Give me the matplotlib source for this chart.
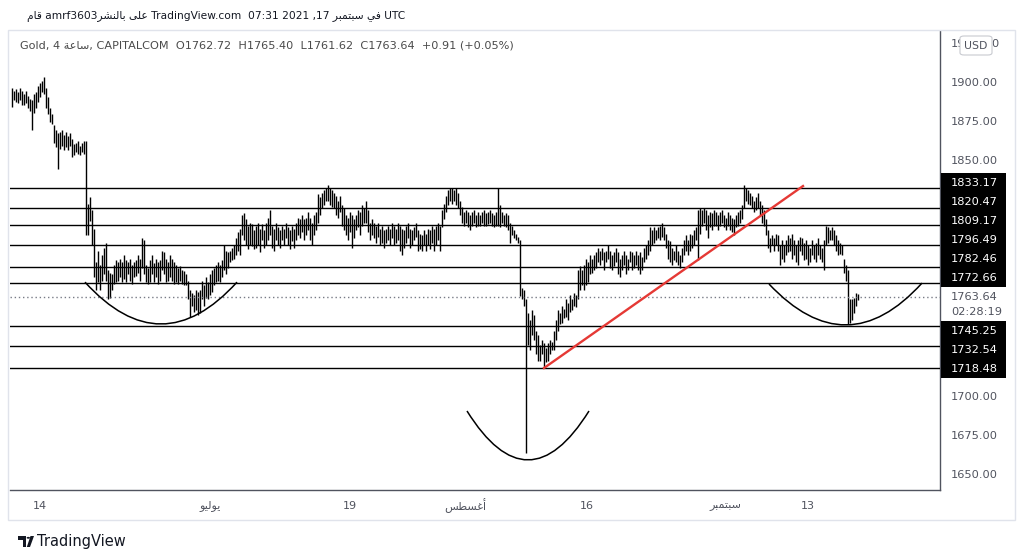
import numpy as np
import matplotlib.pyplot as plt
from matplotlib.path import Path
from matplotlib.patches import PathPatch, Rectangle, FancyBboxPatch, Polygon, Circle

plt.rcParams['font.family'] = ['DejaVu Sans']

# arabic words as presentation forms, already in visual (left to right) order
AR_QAM = "\ufee1\ufe8e\ufed7"
AR_BILNASHR = "\ufeae\ufeb8\ufee8\ufedf\ufe8e\ufe91"
AR_ALA = "\ufef0\ufee0\ufecb"
AR_FI = "\ufef2\ufed3"
AR_SEPT = "\ufeae\ufe92\ufee4\ufe98\ufe92\ufeb3"
AR_SAA = "\ufe94\ufecb\ufe8e\ufeb3"
AR_JULY = "\ufeee\ufef4\ufedf\ufeee\ufef3"
AR_AUG = "\ufeb2\ufec4\ufeb4\ufecf\ufe83"

# ---- 4h bars, high / low ----
bar_high = [
    # mid june
    1897, 1895, 1896, 1894, 1897, 1895, 1893, 1895, 1892, 1890,
    1889, 1893, 1894, 1898, 1900, 1901, 1904, 1897, 1891, 1884,
    1880, 1873, 1870, 1868, 1869, 1870, 1867, 1869, 1866, 1868,
    1864, 1861, 1862, 1863, 1860, 1862, 1863, 1863,
    # late june / july base
    1823, 1827, 1819, 1807, 1786, 1793, 1784, 1790, 1795, 1798,
    1781, 1779, 1778, 1784, 1787, 1786, 1788, 1786, 1790, 1787,
    1786, 1788, 1784, 1786, 1787, 1790, 1788, 1801, 1800, 1784,
    1782, 1787, 1790, 1785, 1788, 1786, 1787, 1793, 1792, 1788,
    1786, 1790, 1788, 1786, 1784, 1782, 1783, 1781, 1780, 1778,
    1774, 1768, 1766, 1765, 1768, 1767, 1768, 1774, 1771, 1776,
    1773, 1778, 1781, 1782, 1784, 1786, 1784, 1787, 1797, 1793,
    1792, 1793, 1795, 1797, 1801, 1805, 1807, 1816, 1817, 1813,
    1809, 1811,
    # july
    1810, 1806, 1809, 1811, 1807, 1810, 1806, 1811, 1814, 1819,
    1809, 1807, 1811, 1808, 1806, 1809, 1807, 1811, 1808, 1806,
    1809, 1807, 1811, 1814, 1813, 1816, 1813, 1814, 1818, 1814,
    1811, 1816, 1818, 1829, 1827, 1830, 1832, 1833, 1835, 1833,
    # late july
    1832, 1830, 1828, 1825, 1828, 1822, 1820, 1816, 1814, 1818,
    1816, 1813, 1816, 1819, 1818, 1822, 1820, 1825, 1819, 1811,
    1813, 1811, 1809, 1811, 1807, 1809, 1806, 1807, 1809, 1807,
    1811, 1809, 1807, 1811, 1809, 1807, 1806, 1809, 1811, 1807,
    1806, 1808, 1811, 1806, 1804, 1803, 1806, 1804, 1807, 1806,
    1809, 1807, 1809, 1811, 1809, 1819, 1823, 1828, 1832, 1833,
    # early august
    1833, 1832, 1833, 1830, 1825, 1821, 1818, 1819, 1818, 1816,
    1818, 1819, 1816, 1818, 1816, 1818, 1819, 1817, 1818, 1819,
    1817, 1816, 1818, 1833, 1822, 1818, 1816, 1817, 1816, 1811,
    1809, 1806, 1804, 1802,
    # flash crash
    1800, 1769, 1768, 1762, 1753, 1749, 1755, 1752, 1742, 1739,
    1733, 1736, 1734, 1731, 1734, 1736, 1735, 1742, 1749, 1755,
    1753,
    # recovery into september
    1758, 1756, 1762, 1760, 1765, 1762, 1766, 1765, 1781, 1783,
    1781, 1784, 1788, 1786, 1790, 1788, 1790, 1792, 1795, 1793,
    1795, 1792, 1793, 1797, 1793, 1790, 1792, 1795, 1792, 1788,
    1790, 1793, 1790, 1788, 1793, 1792, 1790, 1793, 1790, 1792,
    1789, 1795, 1797, 1800, 1808, 1806, 1808, 1806, 1808, 1809,
    1811, 1808, 1804, 1800, 1799, 1795, 1793, 1797, 1793, 1790,
    1795, 1800, 1803, 1800, 1804, 1803, 1806, 1808, 1819, 1820,
    1819, 1820, 1819, 1816, 1818, 1817, 1819, 1818, 1816, 1818,
    1819, 1816, 1814, 1818, 1816, 1814, 1813, 1816, 1818, 1819,
    1822, 1835, 1833, 1832, 1830, 1828, 1825, 1827, 1830, 1825,
    1822, 1819, 1813, 1806, 1801, 1803, 1801, 1804, 1803, 1797,
    1800, 1797, 1800, 1803, 1801, 1804, 1800, 1797, 1800, 1802,
    1801, 1798, 1800, 1797, 1795, 1800, 1797, 1798, 1801, 1797,
    1795, 1800, 1809, 1808, 1806, 1808, 1806, 1803, 1800, 1798,
    1797, 1788, 1784, 1781, 1762, 1762, 1763, 1766, 1765.40,
]

bar_low = [
    1885, 1889, 1888, 1887, 1889, 1886, 1886, 1887, 1884, 1882,
    1870, 1881, 1884, 1888, 1891, 1894, 1893, 1884, 1880, 1875,
    1874, 1862, 1859, 1845, 1858, 1860, 1857, 1859, 1857, 1860,
    1853, 1854, 1856, 1855, 1854, 1856, 1855, 1803,
    1803, 1812, 1797, 1776, 1768, 1773, 1768, 1774, 1778, 1774,
    1762, 1763, 1768, 1772, 1773, 1774, 1776, 1773, 1775, 1773,
    1778, 1774, 1772, 1776, 1777, 1779, 1774, 1782, 1778, 1773,
    1772, 1773, 1778, 1773, 1776, 1772, 1774, 1781, 1778, 1773,
    1774, 1776, 1774, 1772, 1773, 1772, 1774, 1772, 1771, 1771,
    1762, 1751, 1758, 1754, 1755, 1752, 1753, 1762, 1758, 1763,
    1762, 1765, 1767, 1771, 1773, 1774, 1773, 1776, 1781, 1778,
    1782, 1786, 1787, 1788, 1790, 1793, 1790, 1803, 1800, 1797,
    1794, 1797,
    1796, 1794, 1795, 1797, 1792, 1800, 1795, 1797, 1800, 1803,
    1795, 1793, 1800, 1797, 1795, 1800, 1797, 1801, 1797, 1794,
    1799, 1795, 1800, 1803, 1801, 1805, 1800, 1803, 1806, 1800,
    1797, 1803, 1806, 1811, 1816, 1820, 1822, 1825, 1825, 1822,
    1821, 1820, 1816, 1814, 1818, 1809, 1806, 1803, 1800, 1805,
    1795, 1801, 1806, 1808, 1803, 1809, 1811, 1811, 1805, 1800,
    1803, 1801, 1798, 1802, 1797, 1798, 1795, 1798, 1800, 1797,
    1801, 1797, 1798, 1800, 1793, 1790, 1795, 1798, 1801, 1795,
    1797, 1800, 1802, 1793, 1794, 1793, 1797, 1793, 1797, 1794,
    1798, 1793, 1797, 1800, 1793, 1808, 1813, 1818, 1822, 1825,
    1823, 1825, 1822, 1820, 1816, 1811, 1809, 1811, 1808, 1806,
    1809, 1811, 1808, 1809, 1809, 1811, 1809, 1809, 1810, 1811,
    1809, 1808, 1809, 1809, 1808, 1811, 1809, 1808, 1806, 1798,
    1803, 1801, 1800, 1798,
    1764, 1762, 1758, 1664, 1733, 1730, 1739, 1736, 1727, 1723,
    1723, 1727, 1718, 1722, 1723, 1727, 1730, 1730, 1736, 1742,
    1746,
    1747, 1750, 1751, 1749, 1754, 1755, 1758, 1757, 1762, 1768,
    1771, 1768, 1771, 1773, 1778, 1779, 1781, 1782, 1786, 1784,
    1787, 1781, 1786, 1788, 1782, 1781, 1783, 1786, 1778, 1776,
    1781, 1784, 1778, 1781, 1786, 1781, 1782, 1784, 1781, 1778,
    1781, 1786, 1788, 1790, 1793, 1797, 1798, 1800, 1801, 1800,
    1802, 1800, 1795, 1788, 1786, 1784, 1787, 1786, 1784, 1782,
    1786, 1790, 1793, 1790, 1793, 1795, 1797, 1800, 1787, 1804,
    1809, 1811, 1806, 1801, 1808, 1806, 1809, 1809, 1806, 1809,
    1811, 1808, 1806, 1809, 1806, 1805, 1803, 1808, 1809, 1811,
    1813, 1820, 1825, 1823, 1822, 1820, 1818, 1819, 1820, 1816,
    1811, 1809, 1803, 1795, 1792, 1797, 1793, 1797, 1793, 1784,
    1788, 1786, 1790, 1792, 1793, 1788, 1790, 1786, 1784, 1793,
    1790, 1787, 1788, 1784, 1786, 1790, 1788, 1786, 1790, 1788,
    1786, 1781, 1797, 1798, 1800, 1800, 1797, 1793, 1790, 1791,
    1790, 1779, 1774, 1746, 1747, 1749, 1753, 1758, 1761.62,
]

last_price = 1763.64
levels = [1833.17, 1820.47, 1809.17, 1796.49, 1782.46, 1772.66,
          1745.25, 1732.54, 1718.48]
price_ticks = [1650, 1675, 1700, 1725, 1750, 1775, 1800, 1825, 1850,
               1875, 1900]
top_tick = 1925   # mostly hidden under the USD badge

# time axis: bar index of each label
tick_bars = [14, 99, 169, 226.5, 287.5, 356.5, 398]
tick_labels = ["14", AR_JULY, "19", AR_AUG, "16", AR_SEPT, "13"]

# drawings: red trend line and the three cup arcs (bar index, price)
trend_bar = [266, 395.5]
trend_price = [1718.2, 1834.3]
arcs = [
    [(36.5, 1773.0), (74.5, 1746.3), (112.5, 1773.0)],
    [(227.5, 1690.8), (258.0, 1659.6), (288.5, 1690.8)],
    [(378.5, 1771.8), (417.0, 1745.7), (455.0, 1772.4)],
]

assert len(bar_high) == len(bar_low)

W, H = 1025, 560
PL, PR, PT, PB = 10, 940, 31, 490
fig = plt.figure(figsize=(W / 100, H / 100), dpi=100)
fig.patch.set_facecolor('white')
ax = fig.add_axes([PL / W, 1 - PB / H, (PR - PL) / W, (PB - PT) / H])

x = np.arange(len(bar_high))
ax.vlines(x, bar_low, bar_high, color='black', lw=1.0)
ax.set_xlim(-1, 464)
ax.set_ylim(1640.4, 1933.2)
ax.set_xticks([])
ax.set_yticks([])
for s in ['left', 'top']:
    ax.spines[s].set_visible(False)
for s in ['bottom', 'right']:
    ax.spines[s].set_color('#50535e')
    ax.spines[s].set_linewidth(1.0)

for lv in levels:
    ax.axhline(lv, color='black', lw=1.0, zorder=3)
ax.axhline(last_price, color='#787b86', lw=1.0, ls=(0, (1, 2)), zorder=3)

ax.plot(trend_bar, trend_price, color='#e53935', lw=1.7, zorder=4)

for (p0, p1, p2) in arcs:
    # quadratic bezier that passes through the middle point
    cx = 2 * p1[0] - (p0[0] + p2[0]) / 2
    cy = 2 * p1[1] - (p0[1] + p2[1]) / 2
    path = Path([p0, (cx, cy), p2], [Path.MOVETO, Path.CURVE3, Path.CURVE3])
    ax.add_patch(PathPatch(path, fc='none', ec='black', lw=1.1, zorder=4))


def to_px(price):
    return H - ax.transData.transform((0, price))[1]


def fy(py):
    return 1 - py / H


# price scale
step = 19
cur_y = to_px(last_price)
pos = {}
limit = cur_y - step / 2
for lv in sorted([l for l in levels if l > last_price]):
    y = min(to_px(lv), limit - step / 2)
    pos[lv] = y
    limit = y - step / 2
limit = cur_y + 15 + step / 2
for lv in sorted([l for l in levels if l < last_price], reverse=True):
    y = max(to_px(lv), limit + step / 2)
    pos[lv] = y
    limit = y + step / 2

busy = list(pos.values()) + [cur_y, cur_y + 15]
for p in price_ticks:
    y = to_px(p)
    if min(abs(y - b) for b in busy) < 16:
        continue
    fig.text(951 / W, fy(y), f"{p:.2f}", ha='left', va='center',
             fontsize=8.2, color='#50535e')

# the 1925.00 label peeks out on both sides of the USD badge
lab = f"{top_tick:.2f}"
fig.text(951 / W, fy(to_px(top_tick)), lab[:2], ha='left', va='center',
         fontsize=8.2, color='#50535e')
fig.text(998 / W, fy(to_px(top_tick)), lab[-1], ha='right', va='center',
         fontsize=8.2, color='#50535e')

for lv, y in pos.items():
    fig.add_artist(Rectangle((941 / W, fy(y + step / 2)), 65 / W, step / H,
                             transform=fig.transFigure, fc='black', ec='none'))
    fig.text(951 / W, fy(y), f"{lv:.2f}", ha='left', va='center',
             fontsize=8.2, color='white')

fig.text(951 / W, fy(cur_y), f"{last_price:.2f}", ha='left', va='center',
         fontsize=8.2, color='#50535e')
fig.text(951 / W, fy(cur_y + 15), "02:28:19", ha='left', va='center',
         fontsize=8.2, color='#50535e')

fig.add_artist(FancyBboxPatch((960 / W, fy(55)), 32 / W, 19 / H,
                              boxstyle='round,pad=0,rounding_size=0.004',
                              transform=fig.transFigure, fc='white',
                              ec='#c8cad0', lw=0.8, zorder=5))
fig.text(976 / W, fy(46), "USD", ha='center', va='center', fontsize=7.8,
         color='#50535e', zorder=6)

# time scale
for b, lab in zip(tick_bars, tick_labels):
    px = ax.transData.transform((b, 0))[0]
    fig.text(px / W, fy(506), lab, ha='center', va='center', fontsize=8,
             color='#50535e')

# outer frame
fig.add_artist(Rectangle((8 / W, fy(520)), 1007 / W, 490 / H,
                         transform=fig.transFigure, fill=False,
                         ec='#e0e3eb', lw=1.0))

# headers
fig.text(20 / W, fy(45),
         f"Gold, 4 {AR_SAA}, CAPITALCOM  O1762.72  H1765.40  L1761.62  "
         f"C1763.64  +0.91 (+0.05%)",
         ha='left', va='center', fontsize=8.1, color='#4a4a4a')
fig.text(27 / W, fy(17),
         f"{AR_QAM} amrf3603{AR_BILNASHR} {AR_ALA} TradingView.com  "
         f"07:31 2021 ,17 {AR_SEPT} {AR_FI} UTC",
         ha='left', va='center', fontsize=7.7, color='#131722')

# TradingView logo
fig.add_artist(Polygon([(18 / W, fy(536)), (26 / W, fy(536)), (26 / W, fy(547)),
                        (22.5 / W, fy(547)), (22.5 / W, fy(539.5)),
                        (18 / W, fy(539.5))],
                       transform=fig.transFigure, fc='#131722', ec='none'))
fig.add_artist(Circle((28.3 / W, fy(537.8)), 1.7 / W,
                      transform=fig.transFigure, fc='#131722', ec='none'))
fig.add_artist(Polygon([(30.5 / W, fy(536)), (34 / W, fy(536)),
                        (30 / W, fy(547)), (26.8 / W, fy(547))],
                       transform=fig.transFigure, fc='#131722', ec='none'))
fig.text(37 / W, fy(541.5), "TradingView", ha='left', va='center',
         fontsize=10.5, color='#131722')

fig.savefig('out.png', dpi=100)
